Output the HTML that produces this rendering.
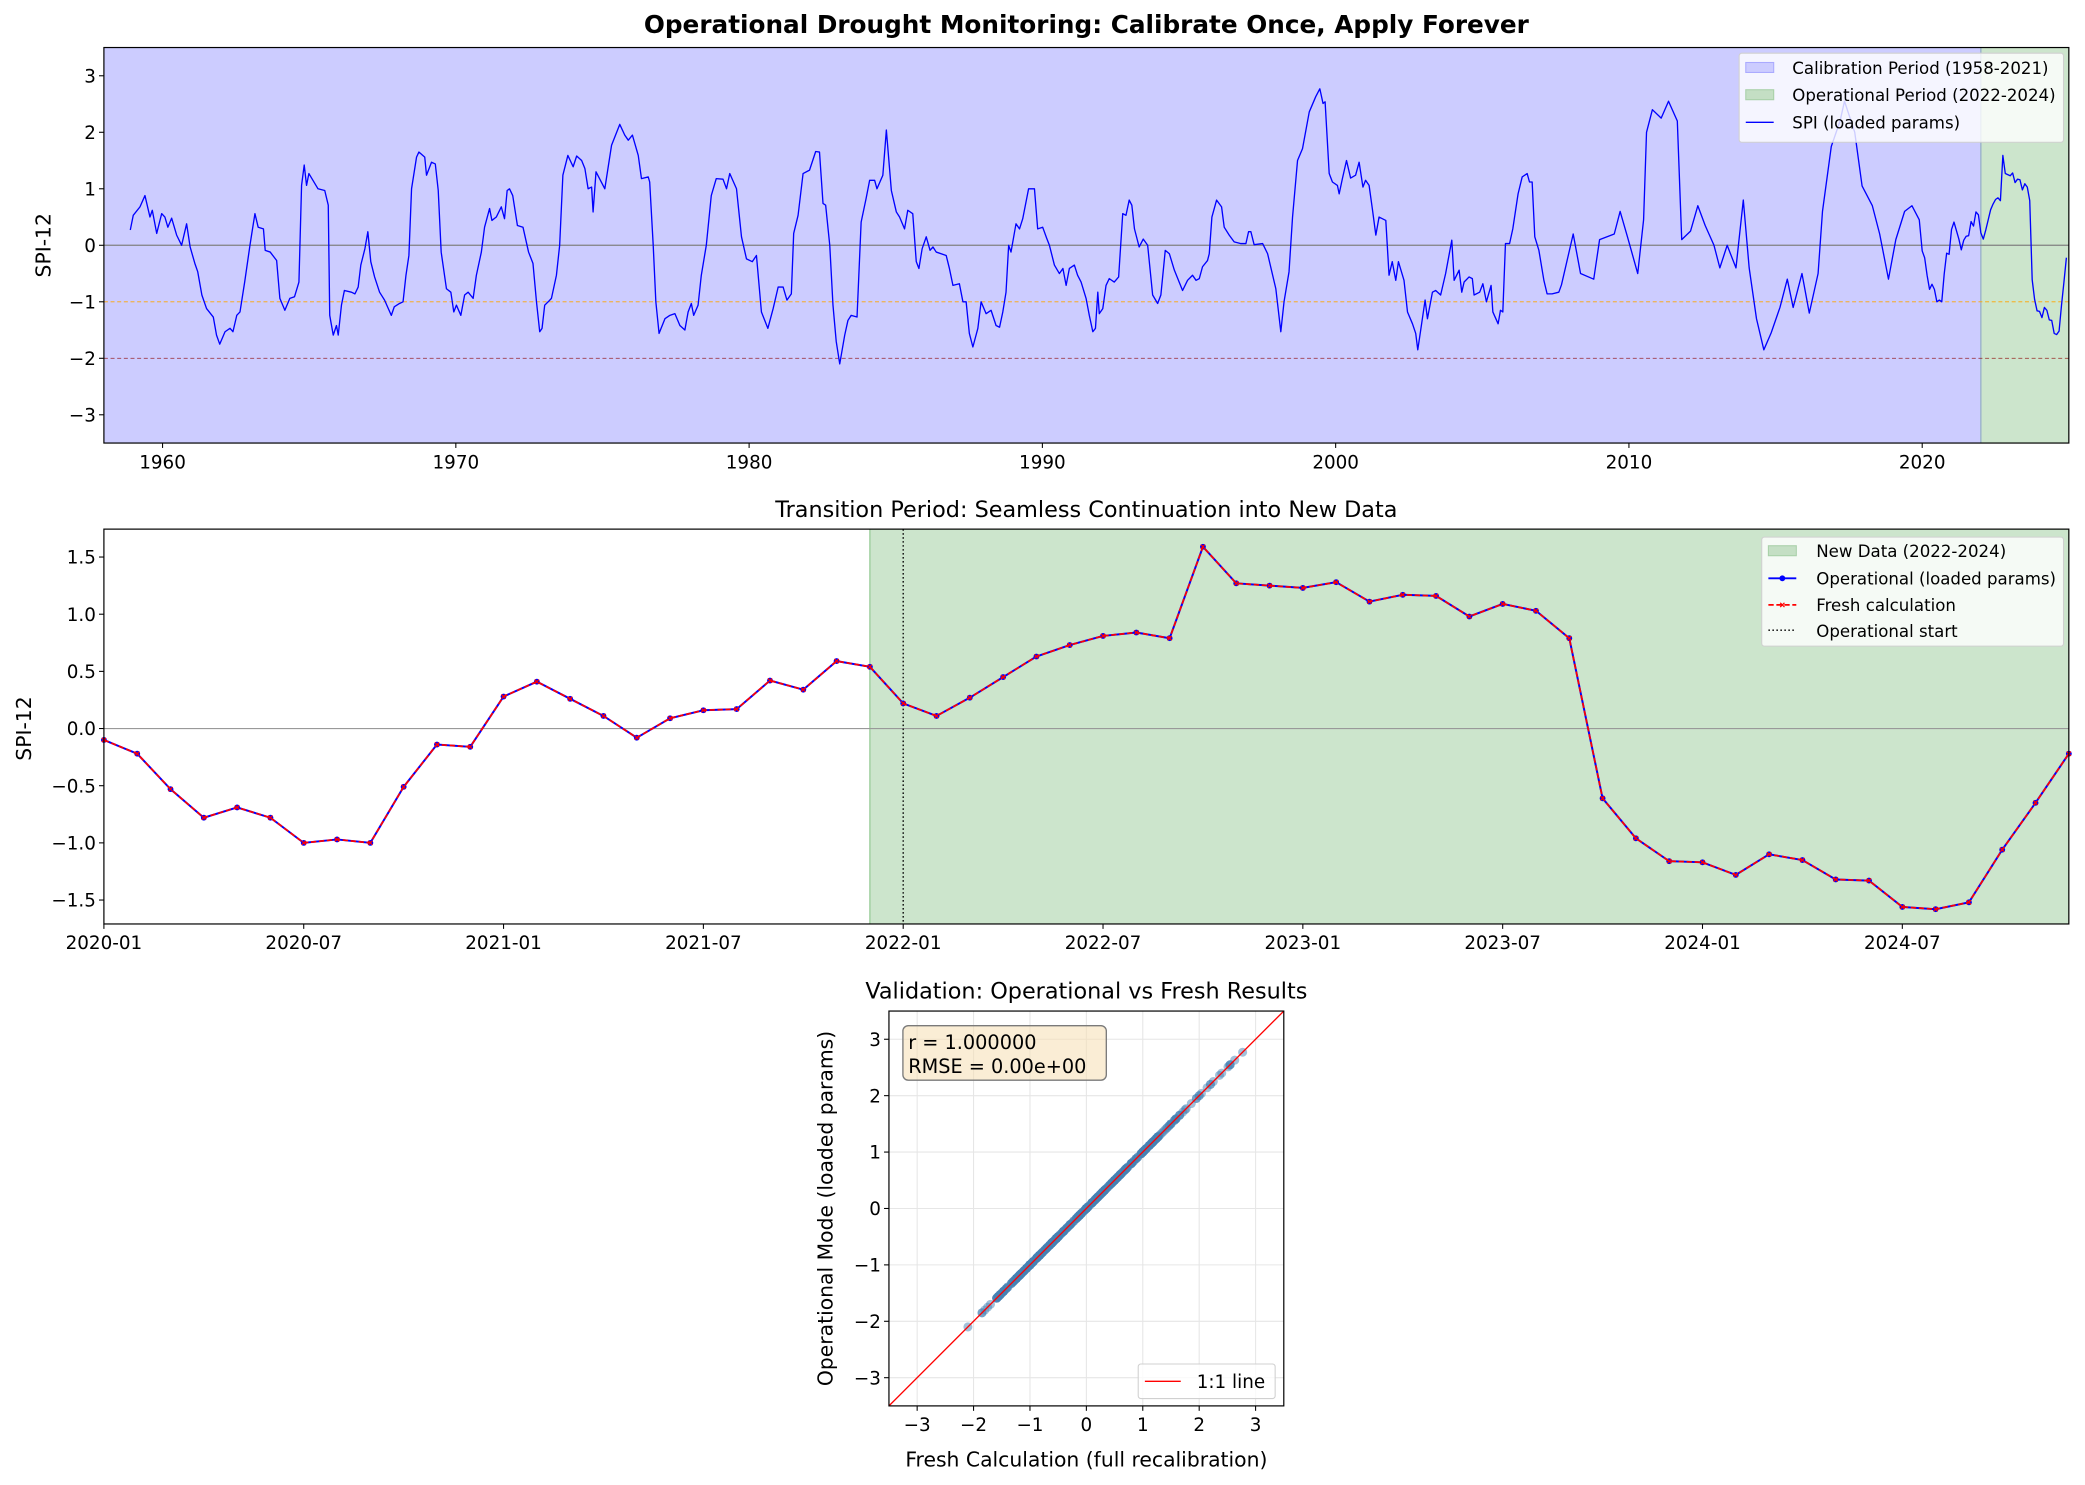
<!DOCTYPE html>
<html><head><meta charset="utf-8">
<style>
html,body{margin:0;padding:0;background:#fff;}
svg{display:block;font-family:"DejaVu Sans","Liberation Sans",sans-serif;}
</style></head>
<body>
<svg id="fig" width="2085" height="1485" viewBox="0 0 1568 1117" xmlns="http://www.w3.org/2000/svg">
<rect width="1568" height="1117" fill="#fff"/>
</svg>
<script>
// ---------------- DATA ----------------
const topYears = [1958.9,1959.0,1959.23,1959.4,1959.57,1959.65,1959.8,1959.97,1960.08,1960.18,1960.31,1960.48,1960.65,1960.82,1960.94,1961.1,1961.2,1961.34,1961.5,1961.73,1961.84,1961.95,1962.13,1962.3,1962.4,1962.53,1962.64,1962.8,1962.98,1963.04,1963.15,1963.26,1963.44,1963.5,1963.67,1963.89,1964.0,1964.17,1964.34,1964.5,1964.65,1964.74,1964.83,1964.91,1964.99,1965.3,1965.53,1965.65,1965.7,1965.82,1965.93,1965.99,1966.1,1966.2,1966.44,1966.56,1966.67,1966.76,1966.9,1967.0,1967.1,1967.23,1967.4,1967.57,1967.8,1967.9,1968.08,1968.2,1968.3,1968.4,1968.49,1968.66,1968.74,1968.94,1969.0,1969.17,1969.3,1969.4,1969.5,1969.68,1969.83,1969.93,1970.02,1970.17,1970.3,1970.42,1970.59,1970.7,1970.87,1970.98,1971.15,1971.23,1971.38,1971.55,1971.66,1971.75,1971.83,1971.94,1972.1,1972.29,1972.48,1972.63,1972.75,1972.86,1972.94,1973.03,1973.15,1973.26,1973.43,1973.54,1973.65,1973.82,1974.0,1974.12,1974.29,1974.4,1974.51,1974.63,1974.68,1974.78,1975.08,1975.31,1975.59,1975.76,1975.88,1976.02,1976.22,1976.33,1976.56,1976.61,1976.73,1976.82,1976.93,1977.13,1977.3,1977.47,1977.64,1977.81,1977.92,1978.03,1978.11,1978.26,1978.37,1978.54,1978.71,1978.88,1979.11,1979.23,1979.34,1979.57,1979.74,1979.91,1980.11,1980.25,1980.42,1980.64,1980.82,1980.99,1981.16,1981.29,1981.44,1981.52,1981.67,1981.84,1982.06,1982.27,1982.4,1982.52,1982.61,1982.75,1982.86,1982.97,1983.09,1983.26,1983.37,1983.48,1983.68,1983.82,1983.99,1984.11,1984.28,1984.36,1984.56,1984.68,1984.85,1985.02,1985.13,1985.3,1985.41,1985.58,1985.7,1985.79,1985.9,1986.04,1986.17,1986.27,1986.38,1986.72,1986.83,1986.95,1987.17,1987.29,1987.4,1987.51,1987.63,1987.8,1987.91,1988.08,1988.25,1988.42,1988.54,1988.65,1988.76,1988.85,1988.93,1989.1,1989.22,1989.33,1989.53,1989.73,1989.84,1990.01,1990.15,1990.24,1990.41,1990.58,1990.7,1990.81,1990.92,1991.09,1991.2,1991.32,1991.49,1991.6,1991.72,1991.81,1991.89,1991.94,1992.06,1992.17,1992.28,1992.45,1992.6,1992.74,1992.85,1992.96,1993.05,1993.14,1993.3,1993.44,1993.59,1993.76,1993.93,1994.04,1994.19,1994.33,1994.5,1994.78,1994.95,1995.12,1995.24,1995.35,1995.46,1995.63,1995.69,1995.78,1995.94,1996.11,1996.2,1996.37,1996.54,1996.77,1996.94,1997.03,1997.11,1997.22,1997.51,1997.68,1997.96,1998.13,1998.24,1998.41,1998.53,1998.7,1998.87,1999.1,1999.32,1999.46,1999.57,1999.64,1999.78,1999.89,2000.06,2000.12,2000.23,2000.37,2000.51,2000.68,2000.8,2000.93,2001.02,2001.14,2001.25,2001.37,2001.48,2001.71,2001.82,2001.93,2002.05,2002.14,2002.33,2002.45,2002.62,2002.73,2002.8,2002.9,2003.05,2003.13,2003.3,2003.41,2003.58,2003.75,2003.96,2004.04,2004.21,2004.3,2004.38,2004.55,2004.66,2004.72,2004.91,2005.02,2005.14,2005.3,2005.36,2005.54,2005.62,2005.7,2005.79,2005.93,2006.04,2006.22,2006.36,2006.53,2006.61,2006.7,2006.79,2006.93,2007.1,2007.21,2007.38,2007.61,2007.7,2008.1,2008.35,2008.8,2009.0,2009.5,2009.7,2009.95,2010.3,2010.5,2010.6,2010.8,2011.1,2011.35,2011.65,2011.8,2012.1,2012.35,2012.6,2012.9,2013.1,2013.35,2013.65,2013.9,2014.1,2014.35,2014.6,2014.85,2015.15,2015.4,2015.6,2015.9,2016.15,2016.45,2016.6,2016.9,2017.2,2017.35,2017.7,2017.95,2018.3,2018.55,2018.85,2019.1,2019.4,2019.65,2019.9];
const topValues = [0.27,0.53,0.68,0.88,0.5,0.62,0.21,0.56,0.5,0.32,0.48,0.18,0,0.38,-0.03,-0.32,-0.47,-0.88,-1.12,-1.27,-1.59,-1.75,-1.53,-1.47,-1.53,-1.24,-1.18,-0.65,0,0.2,0.56,0.32,0.29,-0.09,-0.12,-0.27,-0.94,-1.15,-0.94,-0.91,-0.65,1.06,1.42,1.06,1.27,1.0,0.97,0.71,-1.24,-1.59,-1.42,-1.59,-1.06,-0.8,-0.83,-0.86,-0.74,-0.35,-0.06,0.24,-0.29,-0.56,-0.83,-0.97,-1.24,-1.09,-1.03,-1.0,-0.53,-0.18,1.0,1.56,1.65,1.56,1.24,1.47,1.44,0.97,-0.12,-0.77,-0.83,-1.18,-1.06,-1.24,-0.88,-0.83,-0.94,-0.53,-0.12,0.32,0.65,0.44,0.5,0.68,0.47,0.97,1.0,0.88,0.35,0.32,-0.12,-0.32,-1.0,-1.53,-1.47,-1.06,-1.0,-0.94,-0.53,0,1.24,1.59,1.39,1.58,1.5,1.36,1.0,1.03,0.59,1.3,1.0,1.77,2.14,1.95,1.86,1.95,1.59,1.18,1.21,1.12,0,-1.0,-1.56,-1.3,-1.24,-1.21,-1.42,-1.5,-1.18,-1.03,-1.24,-1.06,-0.53,0,0.88,1.18,1.17,1.0,1.27,1.0,0.15,-0.24,-0.29,-0.18,-1.18,-1.47,-1.12,-0.74,-0.74,-0.97,-0.86,0.21,0.53,1.27,1.33,1.66,1.65,0.74,0.71,0,-1.06,-1.7,-2.1,-1.59,-1.33,-1.24,-1.27,0.41,0.83,1.15,1.15,1.0,1.24,2.04,0.97,0.59,0.5,0.29,0.62,0.56,-0.29,-0.41,-0.06,0.15,-0.09,-0.03,-0.12,-0.18,-0.41,-0.71,-0.68,-1.0,-1.0,-1.56,-1.8,-1.47,-1.0,-1.21,-1.15,-1.42,-1.45,-1.18,-0.83,0,-0.12,0.38,0.29,0.47,1.0,1.0,0.29,0.32,0.12,0,-0.35,-0.5,-0.41,-0.71,-0.41,-0.35,-0.53,-0.65,-0.94,-1.24,-1.53,-1.47,-0.83,-1.21,-1.12,-0.71,-0.59,-0.65,-0.56,0.56,0.53,0.8,0.71,0.29,-0.03,0.11,0,-0.88,-1.03,-0.88,-0.09,-0.15,-0.44,-0.8,-0.62,-0.53,-0.62,-0.59,-0.38,-0.27,-0.15,0.5,0.8,0.68,0.32,0.18,0.06,0.03,0.03,0.24,0.24,0.01,0.03,-0.15,-0.77,-1.53,-1.0,-0.47,0.5,1.5,1.71,2.36,2.63,2.77,2.51,2.54,1.27,1.12,1.06,0.91,1.18,1.5,1.19,1.24,1.47,1.03,1.15,1.06,0.65,0.18,0.5,0.44,-0.53,-0.29,-0.62,-0.29,-0.62,-1.18,-1.39,-1.56,-1.85,-1.5,-0.97,-1.3,-0.83,-0.8,-0.88,-0.5,0.09,-0.62,-0.44,-0.83,-0.65,-0.56,-0.59,-0.88,-0.83,-0.68,-1.0,-0.71,-1.18,-1.39,-1.15,-1.18,0.03,0.03,0.29,0.91,1.21,1.27,1.12,1.12,0.15,-0.09,-0.62,-0.86,-0.86,-0.83,-0.7,0.2,-0.5,-0.6,0.1,0.2,0.6,0.15,-0.5,0.45,2.0,2.4,2.25,2.55,2.2,0.1,0.25,0.7,0.35,0.0,-0.4,0.0,-0.4,0.8,-0.4,-1.3,-1.85,-1.55,-1.1,-0.6,-1.1,-0.5,-1.2,-0.5,0.6,1.75,2.2,2.55,2.0,1.05,0.7,0.2,-0.6,0.1,0.6,0.7,0.45];
// Transition period: monthly values 2020-01 .. 2024-12
const monthLabels = ["2020-01","2020-07","2021-01","2021-07","2022-01","2022-07","2023-01","2023-07","2024-01","2024-07"];
const monthValues = [-0.10,-0.22,-0.53,-0.78,-0.69,-0.78,-1.00,-0.97,-1.00,-0.51,-0.14,-0.16,
0.28,0.41,0.26,0.11,-0.08,0.09,0.16,0.17,0.42,0.34,0.59,0.54,
0.22,0.11,0.27,0.45,0.63,0.73,0.81,0.84,0.79,1.59,1.27,1.25,
1.23,1.28,1.11,1.17,1.16,0.98,1.09,1.03,0.79,-0.61,-0.96,-1.16,
-1.17,-1.28,-1.10,-1.15,-1.32,-1.33,-1.56,-1.58,-1.52,-1.06,-0.65,-0.22];
const topYTicks = [-3,-2,-1,0,1,2,3];
const topXTicks = [1960,1970,1980,1990,2000,2010,2020];
const midYTicks = [-1.5,-1.0,-0.5,0.0,0.5,1.0,1.5];
const scTicks = [-3,-2,-1,0,1,2,3];

// ---------------- HELPERS ----------------
const NS = "http://www.w3.org/2000/svg";
const svg = document.getElementById('fig');
function el(tag, attrs, parent, text) {
  const e = document.createElementNS(NS, tag);
  for (const k in attrs) e.setAttribute(k, attrs[k]);
  if (text !== undefined) e.textContent = text;
  (parent || svg).appendChild(e);
  return e;
}
const TICKFS = 13.8;
const LABELFS = 15.3;
const TITLEFS = 16.8;
const LEGFS = 12.5;

// ---------------- TOP PANEL ----------------
const T = {x0:78, x1:1556, y0:35.75, y1:333.25, ymin:-3.5, ymax:3.5, tmin:1958, tmax:2025};
const xT = y => T.x0 + (y - T.tmin) / (T.tmax - T.tmin) * (T.x1 - T.x0);
const yT = v => T.y1 - (v - T.ymin) / (T.ymax - T.ymin) * (T.y1 - T.y0);
const gTop = el('g', {});


const calib = el('rect', {x:T.x0, y:T.y0, width:xT(2022)-T.x0, height:T.y1-T.y0, fill:'#ccccff'}, gTop);


const oper = el('rect', {x:xT(2022), y:T.y0, width:T.x1-xT(2022), height:T.y1-T.y0, fill:'#cce5cc'}, gTop);


el('line', {x1:xT(2022), x2:xT(2022), y1:T.y0, y2:T.y1, stroke:'#99b2c8', 'stroke-width':1}, gTop);
const h0 = el('line', {x1:T.x0, x2:T.x1, y1:yT(0), y2:yT(0), stroke:'#808080', 'stroke-width':0.9}, gTop);


const h1 = el('line', {x1:T.x0, x2:T.x1, y1:yT(-1), y2:yT(-1), stroke:'#ffa500', 'stroke-width':0.7, 'stroke-dasharray':'3,2'}, gTop);


const h2 = el('line', {x1:T.x0, x2:T.x1, y1:yT(-2), y2:yT(-2), stroke:'#8b0000', 'stroke-width':0.7, 'stroke-dasharray':'3,2', opacity:0.7}, gTop);


let pts = topYears.map((y,i) => xT(y).toFixed(2)+','+yT(topValues[i]).toFixed(2));
monthValues.forEach((v,m) => pts.push(xT(2020 + m/12).toFixed(2)+','+yT(v).toFixed(2)));
const spi = el('polyline', {points:pts.join(' '), fill:'none', stroke:'#0000ff', 'stroke-width':1, 'stroke-linejoin':'round'}, gTop);


el('rect', {x:T.x0, y:T.y0, width:T.x1-T.x0, height:T.y1-T.y0, fill:'none', stroke:'#000', 'stroke-width':0.9}, gTop);
topYTicks.forEach(t => {
  el('line', {x1:T.x0-3.7, x2:T.x0, y1:yT(t), y2:yT(t), stroke:'#000', 'stroke-width':0.8}, gTop);
  const lb = el('text', {x:T.x0-6, y:yT(t)+5, 'text-anchor':'end', 'font-size':TICKFS}, gTop, t<0 ? '\u2212'+Math.abs(t) : String(t));
  
  
});
topXTicks.forEach(t => {
  el('line', {x1:xT(t), x2:xT(t), y1:T.y1, y2:T.y1+3.7, stroke:'#000', 'stroke-width':0.8}, gTop);
  const lb = el('text', {x:xT(t), y:T.y1+19, 'text-anchor':'middle', 'font-size':TICKFS}, gTop, String(t));
  
  
});
const tyl = el('text', {x:0, y:0, transform:'translate(38,184.5) rotate(-90)', 'text-anchor':'middle', 'font-size':LABELFS}, gTop, 'SPI-12');


const tt = el('text', {x:817, y:25, 'text-anchor':'middle', 'font-size':18.6, 'font-weight':'bold'}, gTop, 'Operational Drought Monitoring: Calibrate Once, Apply Forever');


// legend
const lgT = el('g', {}, gTop);


el('rect', {x:1308, y:40, width:244, height:67, rx:2, fill:'#fff', 'fill-opacity':0.8, stroke:'#d0d0d0', 'stroke-width':0.8}, lgT);
el('rect', {x:1313, y:47, width:21, height:7.5, fill:'#ccccff', stroke:'#aaaaff', 'stroke-width':0.8}, lgT);
el('rect', {x:1313, y:67.5, width:21, height:7.5, fill:'#c4dfc4', stroke:'#a8d0a8', 'stroke-width':0.8}, lgT);
el('line', {x1:1313, x2:1334, y1:92, y2:92, stroke:'#0000ff', 'stroke-width':1}, lgT);
const tl1 = el('text', {x:1348, y:55.5, 'font-size':LEGFS}, lgT, 'Calibration Period (1958-2021)');


const tl2 = el('text', {x:1348, y:76, 'font-size':LEGFS}, lgT, 'Operational Period (2022-2024)');


const tl3 = el('text', {x:1348, y:96.5, 'font-size':LEGFS}, lgT, 'SPI (loaded params)');



// ---------------- MIDDLE PANEL ----------------
const M = {x0:78, x1:1556, y0:398, y1:695};
const nM = monthValues.length;
const xM = m => M.x0 + m / (nM - 1) * (M.x1 - M.x0);
const yM = v => 548 - v * 86;
const gMid = el('g', {});


const nd = el('rect', {x:xM(23), y:M.y0, width:M.x1-xM(23), height:M.y1-M.y0, fill:'#cce5cc'}, gMid);


el('line', {x1:xM(23), x2:xM(23), y1:M.y0, y2:M.y1, stroke:'#99cc99', 'stroke-width':1}, gMid);
el('line', {x1:M.x0, x2:M.x1, y1:yM(0), y2:yM(0), stroke:'#999', 'stroke-width':0.9}, gMid);
const os = el('line', {x1:xM(24), x2:xM(24), y1:M.y0, y2:M.y1, stroke:'#000', 'stroke-width':1, 'stroke-dasharray':'1.2,1.8'}, gMid);


const mp = monthValues.map((v,m) => xM(m).toFixed(2)+','+yM(v).toFixed(2)).join(' ');
const opLine = el('polyline', {points:mp, fill:'none', stroke:'#0000ff', 'stroke-width':1.5}, gMid);


monthValues.forEach((v,m) => {
  const c = el('circle', {cx:xM(m), cy:yM(v), r:2.2, fill:'#0000ff'}, gMid);
  
  
});
const frLine = el('polyline', {points:mp, fill:'none', stroke:'#ff0000', 'stroke-width':1.3, 'stroke-dasharray':'4,2'}, gMid);


monthValues.forEach((v,m) => {
  const x = xM(m), y = yM(v), s = 1.6;
  const p = el('path', {d:`M${x-s},${y-s}L${x+s},${y+s}M${x-s},${y+s}L${x+s},${y-s}`, stroke:'#ff0000', 'stroke-width':0.9}, gMid);
  
  
});
el('rect', {x:M.x0, y:M.y0, width:M.x1-M.x0, height:M.y1-M.y0, fill:'none', stroke:'#000', 'stroke-width':0.9}, gMid);
midYTicks.forEach(t => {
  el('line', {x1:M.x0-3.7, x2:M.x0, y1:yM(t), y2:yM(t), stroke:'#000', 'stroke-width':0.8}, gMid);
  const s = (t<0?'\u2212':'') + Math.abs(t).toFixed(1);
  const lb = el('text', {x:M.x0-6, y:yM(t)+5, 'text-anchor':'end', 'font-size':TICKFS}, gMid, s);
  
  
});
monthLabels.forEach((lab,i) => {
  const m = i*6;
  el('line', {x1:xM(m), x2:xM(m), y1:M.y1, y2:M.y1+3.7, stroke:'#000', 'stroke-width':0.8}, gMid);
  const lb = el('text', {x:xM(m), y:M.y1+19, 'text-anchor':'middle', 'font-size':TICKFS}, gMid, lab);
  
  
});
const myl = el('text', {x:0, y:0, transform:'translate(23,548) rotate(-90)', 'text-anchor':'middle', 'font-size':LABELFS}, gMid, 'SPI-12');


const mt = el('text', {x:817, y:389, 'text-anchor':'middle', 'font-size':TITLEFS}, gMid, 'Transition Period: Seamless Continuation into New Data');


const lgM = el('g', {}, gMid);


el('rect', {x:1325, y:404, width:227, height:82, rx:2, fill:'#fff', 'fill-opacity':0.8, stroke:'#d0d0d0', 'stroke-width':0.8}, lgM);
el('rect', {x:1330, y:410.5, width:21, height:7.5, fill:'#c4dfc4', stroke:'#a8d0a8', 'stroke-width':0.8}, lgM);
el('line', {x1:1330, x2:1351, y1:435, y2:435, stroke:'#0000ff', 'stroke-width':1.5}, lgM);
el('circle', {cx:1340.5, cy:435, r:2.2, fill:'#0000ff'}, lgM);
el('line', {x1:1330, x2:1351, y1:455, y2:455, stroke:'#ff0000', 'stroke-width':1.3, 'stroke-dasharray':'4,2'}, lgM);
el('path', {d:'M1338.9,453.4L1342.1,456.6M1338.9,456.6L1342.1,453.4', stroke:'#ff0000', 'stroke-width':0.9}, lgM);
el('line', {x1:1330, x2:1351, y1:474, y2:474, stroke:'#000', 'stroke-width':1, 'stroke-dasharray':'1.2,1.8'}, lgM);
[['New Data (2022-2024)',419],['Operational (loaded params)',439.5],['Fresh calculation',459.5],['Operational start',479]].forEach(([t,y]) => {
  const lb = el('text', {x:1366, y:y, 'font-size':LEGFS}, lgM, t);
  
  
});

// ---------------- SCATTER PANEL ----------------
const S = {x0:668.5, x1:965.5, y0:760.5, y1:1057.5, min:-3.5, max:3.5};
const xS = v => S.x0 + (v - S.min) / (S.max - S.min) * (S.x1 - S.x0);
const yS = v => S.y1 - (v - S.min) / (S.max - S.min) * (S.y1 - S.y0);
const gSc = el('g', {});


scTicks.forEach(t => {
  el('line', {x1:xS(t), x2:xS(t), y1:S.y0, y2:S.y1, stroke:'#e6e6e6', 'stroke-width':0.8}, gSc);
  el('line', {x1:S.x0, x2:S.x1, y1:yS(t), y2:yS(t), stroke:'#e6e6e6', 'stroke-width':0.8}, gSc);
});
const allVals = topValues.concat(monthValues);
allVals.forEach(v => {
  const c = el('circle', {cx:xS(v), cy:yS(v), r:3.4, fill:'#4682b4', 'fill-opacity':0.5}, gSc);
  
  
});
const one = el('line', {x1:xS(-3.5), y1:yS(-3.5), x2:xS(3.5), y2:yS(3.5), stroke:'#ff0000', 'stroke-width':1}, gSc);


el('rect', {x:S.x0, y:S.y0, width:S.x1-S.x0, height:S.y1-S.y0, fill:'none', stroke:'#000', 'stroke-width':0.9}, gSc);
scTicks.forEach(t => {
  const s = t<0 ? '\u2212'+Math.abs(t) : String(t);
  el('line', {x1:xS(t), x2:xS(t), y1:S.y1, y2:S.y1+3.7, stroke:'#000', 'stroke-width':0.8}, gSc);
  const lx = el('text', {x:xS(t), y:S.y1+19, 'text-anchor':'middle', 'font-size':TICKFS}, gSc, s);
  
  
  el('line', {x1:S.x0-3.7, x2:S.x0, y1:yS(t), y2:yS(t), stroke:'#000', 'stroke-width':0.8}, gSc);
  const ly = el('text', {x:S.x0-6, y:yS(t)+5, 'text-anchor':'end', 'font-size':TICKFS}, gSc, s);
  
  
});
const sxl = el('text', {x:817, y:1103, 'text-anchor':'middle', 'font-size':LABELFS}, gSc, 'Fresh Calculation (full recalibration)');


const syl = el('text', {x:0, y:0, transform:'translate(626,909) rotate(-90)', 'text-anchor':'middle', 'font-size':LABELFS}, gSc, 'Operational Mode (loaded params)');


const st = el('text', {x:817, y:751, 'text-anchor':'middle', 'font-size':TITLEFS}, gSc, 'Validation: Operational vs Fresh Results');


const box = el('g', {}, gSc);


el('rect', {x:679, y:771.5, width:153, height:41, rx:4, fill:'#f5deb3', 'fill-opacity':0.55, stroke:'#7a7a7a', 'stroke-width':1}, box);
el('text', {x:683, y:789, 'font-size':14.5}, box, 'r = 1.000000');
el('text', {x:683, y:807, 'font-size':14.5}, box, 'RMSE = 0.00e+00');
const lgS = el('g', {}, gSc);


el('rect', {x:856, y:1026, width:103, height:26, rx:2, fill:'#fff', 'fill-opacity':0.8, stroke:'#d0d0d0', 'stroke-width':0.8}, lgS);
el('line', {x1:861, x2:888, y1:1039, y2:1039, stroke:'#ff0000', 'stroke-width':1}, lgS);
el('text', {x:900, y:1044, 'font-size':13.8}, lgS, '1:1 line');
</script>
</body></html>
